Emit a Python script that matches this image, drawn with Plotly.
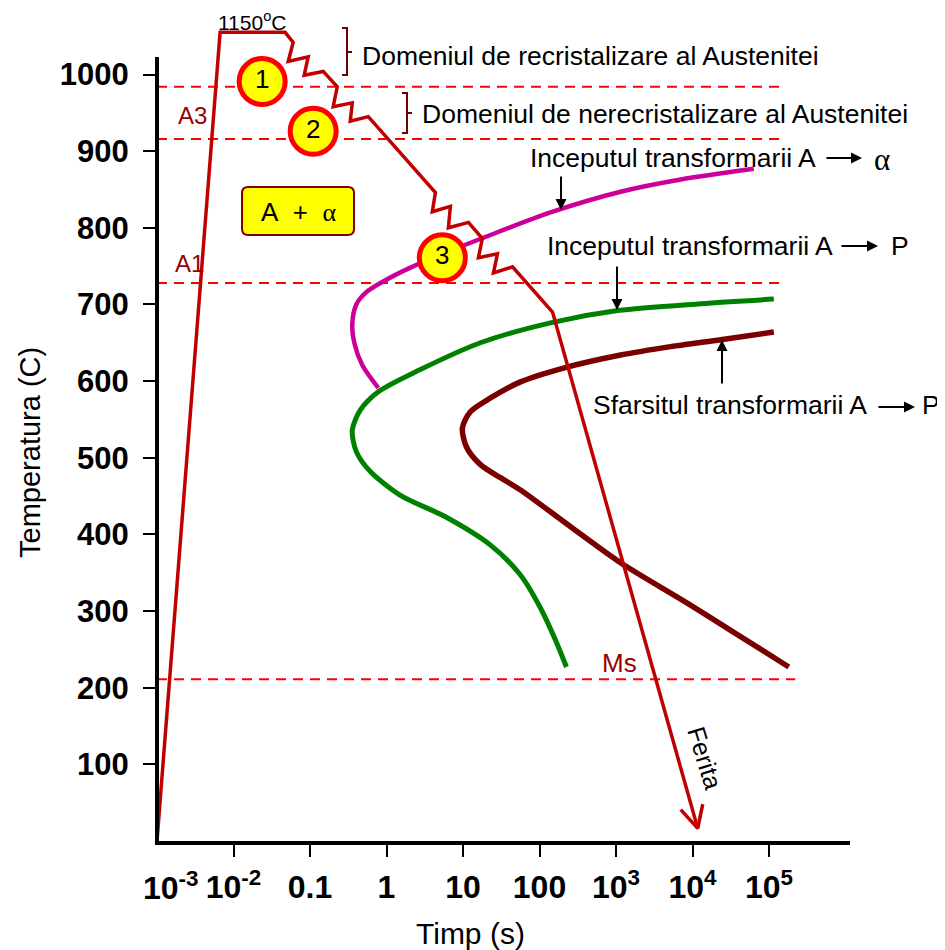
import numpy as np
import plotly.graph_objects as go

# ---------------- data (time in s, temperature in °C) ----------------
crit_T = [984, 916, 728, 211]                 # upper limit, A3, A1, Ms
crit_t_end = [1.4e5, 1.4e5, 1.4e5, 2.2e5]

path_t = [0.001, 0.00668, 0.0473, 0.0603, 0.0519, 0.0946, 0.0839, 0.149, 0.227,
          0.201, 0.357, 0.336, 0.578, 4.36, 3.97, 6.84, 6.44, 11.8, 17.9, 15.9,
          28.2, 25.0, 44.4, 148, 11700]
path_T = [0, 1055, 1055, 1042, 1017, 1023, 999, 1004, 984, 958, 963, 939, 945,
          846, 821, 828, 800, 807, 786, 761, 766, 741, 749, 690, 16.5]

head_t = [7015, 11700, 13610]
head_T = [41, 16.5, 48]

alpha_t = [0.782, 0.482, 0.379, 0.357, 0.403, 0.545, 0.908, 2.05, 6.84, 18.5,
           139, 1148, 7015, 63200]
alpha_T = [591, 621, 650, 674, 700, 716, 730, 748, 770, 787, 820, 847, 863, 877]

ps_t = [115600, 12790, 1050, 139, 16.9, 2.77, 0.782, 0.454, 0.357, 0.403, 0.614,
        1.52, 5.89, 22.9, 56.4, 103, 162, 225]
ps_T = [707, 701, 692, 676, 650, 615, 586, 562, 536, 508, 482, 451, 423, 386,
        347, 304, 262, 227]

pf_t = [115600, 23390, 5190, 1148, 206, 56.4, 22.9, 12.5, 9.82, 11.1, 16.9, 30.9,
        56.4, 255, 1148, 8650, 39080, 181500]
pf_T = [664, 654, 645, 634, 617, 599, 578, 560, 539, 514, 491, 474, 458, 410,
        363, 310, 269, 227]

circ_t = [0.0237, 0.110, 5.37]
circ_T = [991, 926, 761]
circ_lbl = ["1", "2", "3"]

xtick_vals = [1e-2, 1e-1, 1, 10, 100, 1e3, 1e4, 1e5]
xtick_text = ["10<sup>-2</sup>", "0.1", "1", "10", "100", "10<sup>3</sup>",
              "10<sup>4</sup>", "10<sup>5</sup>"]
ytick_vals = [100, 200, 300, 400, 500, 600, 700, 800, 900, 1000]

# ---------------- figure ----------------
FONT = "Liberation Sans, Arial, sans-serif"
SERIF = "Liberation Serif, serif"
RED = "#C00000"
fig = go.Figure()

for T, te in zip(crit_T, crit_t_end):
    fig.add_trace(go.Scatter(x=[0.001, te], y=[T, T], mode="lines",
                             line=dict(color="#FF0000", width=2, dash="10px,7px"),
                             hoverinfo="skip"))

fig.add_trace(go.Scatter(x=alpha_t, y=alpha_T, mode="lines",
                         line=dict(color="#CC0099", width=4.5, shape="spline", smoothing=0.8)))
fig.add_trace(go.Scatter(x=ps_t, y=ps_T, mode="lines",
                         line=dict(color="#008000", width=5, shape="spline", smoothing=0.8)))
fig.add_trace(go.Scatter(x=pf_t, y=pf_T, mode="lines",
                         line=dict(color="#7A0000", width=5.5, shape="spline", smoothing=0.8)))
fig.add_trace(go.Scatter(x=path_t, y=path_T, mode="lines",
                         line=dict(color=RED, width=3.5)))
fig.add_trace(go.Scatter(x=head_t, y=head_T, mode="lines",
                         line=dict(color=RED, width=3.5)))
fig.add_trace(go.Scatter(x=circ_t, y=circ_T, mode="markers+text", text=circ_lbl,
                         textposition="middle center",
                         textfont=dict(family=FONT, size=26, color="black"),
                         marker=dict(size=46, color="#FFFF00",
                                     line=dict(color="#FF0000", width=5)),
                         cliponaxis=False))

# page body has an 8px margin: figure is 8px smaller and margins compensate
fig.update_layout(
    width=937, height=942,
    margin=dict(l=149, r=95, t=21, b=109),
    paper_bgcolor="white", plot_bgcolor="white",
    showlegend=False,
    font=dict(family=FONT, color="black"),
)
fig.update_xaxes(type="log", range=[-3, -3 + 693 / 76.5], showgrid=False,
                 zeroline=False, showline=False,
                 tickmode="array", tickvals=xtick_vals, ticktext=xtick_text,
                 ticks="outside", ticklen=15, tickwidth=1.5, tickcolor="black",
                 tickfont=dict(family=FONT, size=32, color="black", weight="bold"),
                 ticklabelstandoff=3)
fig.update_yaxes(range=[0, 812 / 0.7665], showgrid=False, zeroline=False,
                 showline=False, tickmode="array", tickvals=ytick_vals,
                 ticks="outside", ticklen=13, tickwidth=2, tickcolor="black",
                 tickfont=dict(family=FONT, size=31, color="black", weight="bold"),
                 ticklabelstandoff=8)

# axis lines
shapes = [
    dict(type="line", xref="paper", yref="paper", x0=0, x1=0, y0=-0.004, y1=0.9655,
         line=dict(color="black", width=4)),
    dict(type="line", xref="paper", yref="paper", x0=-0.003, x1=1, y0=-0.0025, y1=-0.0025,
         line=dict(color="black", width=4)),
]
# braces
for xh, xv, xn, yt, yb, ym in [(0.267, 0.2742, 0.2814, 1.0012, 0.9433, 0.9717),
                               (0.3535, 0.3608, 0.368, 0.9212, 0.8719, 0.8966)]:
    shapes.append(dict(type="path", xref="paper", yref="paper",
                       path=f"M{xh},{yt} L{xv},{yt} L{xv},{yb} L{xh},{yb} M{xv},{ym} L{xn},{ym}",
                       line=dict(color="#6B0000", width=2)))
# rounded box for A + alpha
x0, x1, y0, y1 = 0.1227, 0.2843, 0.7463, 0.8054
rx, ry = 0.0087, 0.0074
box = (f"M{x0+rx},{y0} L{x1-rx},{y0} Q{x1},{y0} {x1},{y0+ry} L{x1},{y1-ry} "
       f"Q{x1},{y1} {x1-rx},{y1} L{x0+rx},{y1} Q{x0},{y1} {x0},{y1-ry} "
       f"L{x0},{y0+ry} Q{x0},{y0} {x0+rx},{y0} Z")
shapes.append(dict(type="path", xref="paper", yref="paper", path=box,
                   fillcolor="#FFFF00", line=dict(color="#800000", width=2), layer="above"))
fig.update_layout(shapes=shapes)

ann = []
def txt(x, y, s, size=26, color="black", xanchor="left", yanchor="middle", angle=0, family=FONT):
    ann.append(dict(xref="paper", yref="paper", x=x, y=y, text=s, showarrow=False,
                    xanchor=xanchor, yanchor=yanchor, textangle=angle,
                    font=dict(family=family, size=size, color=color)))

def arr(x, y, ax, ay):
    ann.append(dict(xref="paper", yref="paper", x=x, y=y, text="", showarrow=True,
                    ax=ax, ay=ay, arrowhead=2, arrowsize=1.1, arrowwidth=2,
                    arrowcolor="black", standoff=0))

txt(0.1385, 1.0099, "1150<sup>o</sup>C", size=21, xanchor="center")
txt(0.2929, 0.9667, "Domeniul de recristalizare al Austenitei", size=26.5)
txt(0.3795, 0.8953, "Domeniul de nerecristalizare al Austenitei", size=26.5)
txt(0.5354, 0.8411, "Inceputul transformarii A", size=26.5)
arr(1.0173, 0.8411, -37, 0)
txt(1.0462, 0.8387, "α", size=31, xanchor="center", family=SERIF)
txt(0.5599, 0.7328, "Inceputul transformarii A", size=26.5)
arr(1.0404, 0.7328, -38, 0)
txt(1.0560, 0.7328, "P", size=26.5)
txt(0.6263, 0.5369, "Sfarsitul transformarii A", size=26.5)
arr(1.0938, 0.5345, -38, 0)
txt(1.1010, 0.5369, "P", size=26.5)
arr(0.583, 0.7771, 0, -35)
arr(0.6638, 0.6539, 0, -45)
arr(0.8153, 0.617, 0, 45)
txt(0.0519, 0.8929, "A3", size=24, color="#990000", xanchor="center")
txt(0.0476, 0.7106, "A1", size=24, color="#990000", xanchor="center")
txt(0.6681, 0.2192, "Ms", size=26, color="#990000", xanchor="center")
txt(0.7908, 0.1022, "Ferita", size=25, xanchor="center", angle=73)
ann.append(dict(xref="paper", yref="paper", x=0.2035, y=0.7746, showarrow=False,
                text="A\u00a0\u00a0+\u00a0\u00a0<span style='font-family:Liberation Serif'>α</span>",
                xanchor="center", yanchor="middle", font=dict(family=FONT, size=26, color="black")))
txt(-0.1833, 0.4791, "Temperatura (C)", size=29, xanchor="center", angle=-90)
txt(0.4517, -0.1145, "Timp (s)", size=30, xanchor="center")
ann.append(dict(xref="paper", yref="paper", x=0.0202, y=-0.0554, showarrow=False,
                text="10<sup>-3</sup>", xanchor="center", yanchor="middle",
                font=dict(family=FONT, size=32, color="black", weight="bold")))
fig.update_layout(annotations=ann)

fig.write_html("out.html")
